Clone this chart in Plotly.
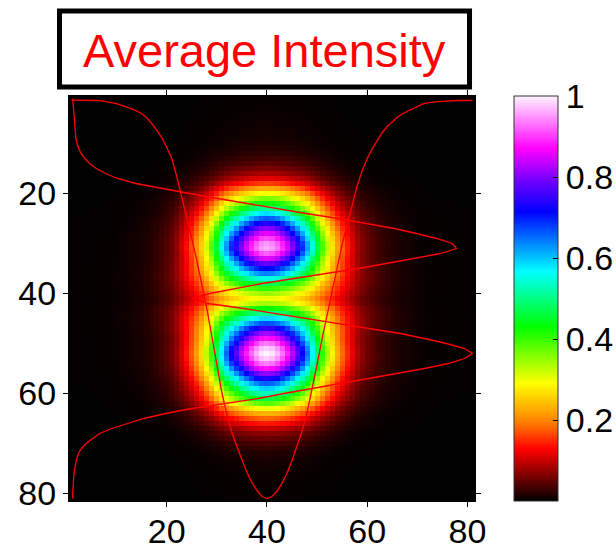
import numpy as np
import plotly.graph_objects as go

# pixel index along each axis
cols = list(range(1, 82))
rows = list(range(1, 82))

# horizontal cut through the centre row (normalised)
h_profile = [
    0.004, 0.004, 0.004, 0.004, 0.005, 0.005, 0.006, 0.008, 0.010, 0.013,
    0.017, 0.021, 0.026, 0.031, 0.038, 0.048, 0.062, 0.079, 0.098, 0.122,
    0.150, 0.195, 0.245, 0.297, 0.350, 0.405, 0.462, 0.525, 0.595, 0.665,
    0.735, 0.790, 0.835, 0.870, 0.905, 0.935, 0.960, 0.980, 0.995, 1.000,
    0.995, 0.982, 0.962, 0.937, 0.905, 0.870, 0.832, 0.785, 0.728, 0.665,
    0.600, 0.540, 0.480, 0.420, 0.365, 0.315, 0.265, 0.218, 0.180, 0.150,
    0.126, 0.104, 0.085, 0.070, 0.058, 0.047, 0.038, 0.032, 0.025, 0.019,
    0.014, 0.011, 0.009, 0.008, 0.007, 0.006, 0.006, 0.005, 0.005, 0.005,
    0.005,
]

# vertical cut through the centre column (normalised)
v_profile = [
    0.003, 0.004, 0.004, 0.005, 0.006, 0.007, 0.008, 0.009, 0.011, 0.014,
    0.018, 0.024, 0.033, 0.045, 0.062, 0.085, 0.115, 0.160, 0.225, 0.295,
    0.365, 0.435, 0.505, 0.585, 0.665, 0.740, 0.805, 0.860, 0.910, 0.950,
    0.960, 0.920, 0.855, 0.785, 0.715, 0.640, 0.555, 0.475, 0.405, 0.345,
    0.300, 0.340, 0.430, 0.510, 0.590, 0.670, 0.750, 0.820, 0.880, 0.935,
    0.980, 1.000, 0.980, 0.940, 0.880, 0.810, 0.735, 0.660, 0.595, 0.530,
    0.465, 0.385, 0.300, 0.235, 0.180, 0.140, 0.100, 0.070, 0.052, 0.036,
    0.025, 0.017, 0.013, 0.010, 0.008, 0.006, 0.005, 0.004, 0.004, 0.003,
    0.003,
]

# per-row weight of the narrow blob core in the row profile
core_weight = [
    0.70, 0.70, 0.70, 0.70, 0.70, 0.70, 0.70, 0.70, 0.70, 0.70,
    0.70, 0.70, 0.70, 0.70, 0.70, 0.70, 0.70, 0.70, 0.70, 0.70,
    0.70, 0.70, 0.70, 0.70, 0.70, 0.70, 0.70, 0.70, 0.70, 0.70,
    0.70, 0.69, 0.66, 0.61, 0.54, 0.46, 0.37, 0.28, 0.18, 0.08,
    0.00, 0.08, 0.18, 0.28, 0.37, 0.46, 0.54, 0.61, 0.66, 0.69,
    0.70, 0.70, 0.70, 0.70, 0.70, 0.70, 0.70, 0.70, 0.70, 0.70,
    0.70, 0.70, 0.70, 0.70, 0.70, 0.70, 0.70, 0.70, 0.70, 0.70,
    0.70, 0.70, 0.70, 0.70, 0.70, 0.70, 0.70, 0.70, 0.70, 0.70,
    0.70,
]
core_sharpness = 2.2

tick_vals = [20, 40, 60, 80]
cbar_vals = [0.2, 0.4, 0.6, 0.8, 1]
cbar_text = ["0.2", "0.4", "0.6", "0.8", "1"]
title_text = "Average Intensity"

h_arr = np.array(h_profile)
v_arr = np.array(v_profile)
w_arr = np.array(core_weight)
row_shape = (w_arr[:, None] * h_arr[None, :] ** core_sharpness
             + (1 - w_arr[:, None]) * h_arr[None, :])
z = v_arr[:, None] * row_shape

colorscale = [
    [0.0, "#000000"], [0.128, "#ff0000"], [0.195, "#ff8000"], [0.29, "#ffff00"],
    [0.43, "#00ff00"], [0.566, "#00ffff"], [0.714, "#0000ff"], [0.79, "#7000ff"],
    [0.87, "#ff00ff"], [1.0, "#fff4ff"],
]

FONT = "Arial, Liberation Sans, sans-serif"

fig = go.Figure()
fig.add_trace(go.Heatmap(
    x=cols, y=rows, z=z, zmin=0, zmax=1, colorscale=colorscale,
    hoverinfo="skip",
    colorbar=dict(
        thickness=44, thicknessmode="pixels", len=1, lenmode="fraction",
        x=1.0965, xanchor="left", y=0.5, yanchor="middle", xpad=0, ypad=0,
        outlinewidth=1, outlinecolor="#333333",
        tickvals=cbar_vals, ticktext=cbar_text, ticks="inside", ticklen=5,
        tickcolor="black", tickfont=dict(family=FONT, size=34, color="black"),
    ),
))
fig.add_trace(go.Scatter(
    x=[1 + 80 * val for val in v_profile], y=rows, mode="lines",
    line=dict(color="#ff0000", width=1.3), hoverinfo="skip", showlegend=False,
))
fig.add_trace(go.Scatter(
    x=cols, y=[1 + 80 * val for val in h_profile], mode="lines",
    line=dict(color="#ff0000", width=1.3), hoverinfo="skip", showlegend=False,
))

axis_common = dict(
    tickvals=tick_vals, ticks="outside", ticklen=5, tickcolor="black",
    showline=True, linecolor="black", linewidth=1, mirror="ticks",
    showgrid=False, zeroline=False, automargin=False,
    tickfont=dict(family=FONT, size=34, color="black"),
)
fig.update_xaxes(range=[0.5, 81.5], ticklabelstandoff=-5, **axis_common)
fig.update_yaxes(range=[81.5, 0.5], **axis_common)

fig.add_shape(type="rect", xref="paper", yref="paper",
              x0=-0.0234, x1=0.9865, y0=1.0222, y1=1.2096,
              line=dict(color="black", width=5), fillcolor="white")
fig.add_annotation(text=title_text, xref="paper", yref="paper",
                   x=0.4815, y=1.112, xanchor="center", yanchor="middle",
                   showarrow=False, font=dict(family=FONT, size=47, color="#ff0000"))

fig.update_layout(
    width=616, height=549, autosize=False,
    margin=dict(l=69, r=141, t=96, b=48, autoexpand=False),
    paper_bgcolor="white", plot_bgcolor="black",
)
fig.write_html(
    "out.html",
    config={"displayModeBar": False},
    post_script="document.body.style.margin='0';document.body.style.overflow='hidden';",
)
